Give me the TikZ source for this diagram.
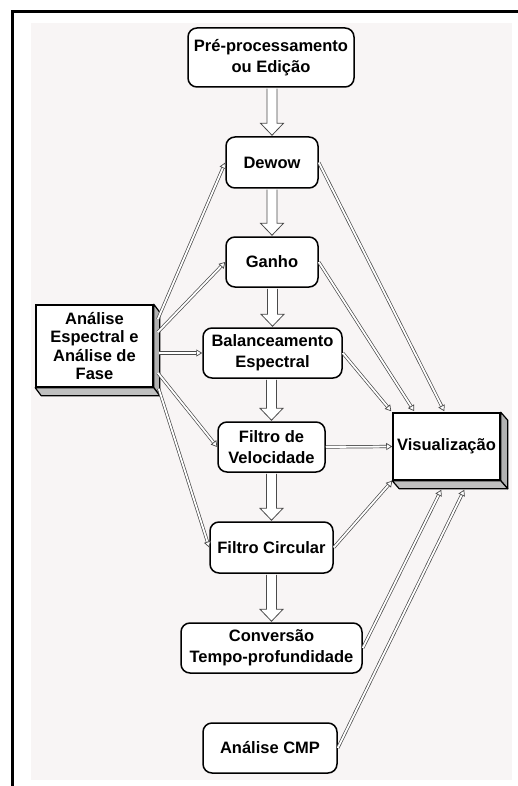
\documentclass[tikz,border=0pt]{standalone}
\usepackage{fontspec}
\setmainfont{Liberation Sans}
\usetikzlibrary{calc,arrows.meta}
\definecolor{bggrey}{HTML}{F8F5F5}
\definecolor{linegrey}{HTML}{4A4A4A}
\tikzset{
  rbox/.style={rectangle, rounded corners=9pt, draw=black, line width=1.5pt, fill=white,
    font=\bfseries\fontsize{16.5}{21}\selectfont, align=center, inner sep=0pt},
  sbox/.style={rectangle, draw=black, line width=1.5pt, fill=white,
    font=\bfseries\fontsize{16.5}{18.5}\selectfont, align=center, inner sep=0pt},
  sideface/.style={draw=black, line width=1.2pt, fill=gray!60, line join=round},
  bottomface/.style={draw=black, line width=1.2pt, fill=gray!50, line join=round},
  blk/.style={draw=linegrey, line width=0.8pt, fill=white, line join=miter},
  dline/.style={draw=linegrey, line width=0.7pt, double=white, double distance=1.8pt, shorten >=5pt},
  dhead/.style={draw=linegrey, line width=0.7pt, -{Triangle[fill=white, length=6pt, width=7pt]}},
}
\newcommand\dblarrow[2]{\draw[dline] (#1) -- (#2); \draw[dhead] ($(#2)!6pt!(#1)$) -- (#2);}
\newcommand\blkarrow[2]{\draw[blk] ($(#1.south -| #2.north)+(-5,1)$) -- ($(#2.north)+(-5,-13)$) -- ($(#2.north)+(-11.5,-13)$) -- ($(#2.north)+(0,-1)$) -- ($(#2.north)+(11.5,-13)$) -- ($(#2.north)+(5,-13)$) -- ($(#1.south -| #2.north)+(5,1)$);}
\begin{document}
\begin{tikzpicture}[x=1pt, y=-1pt]
\useasboundingbox (0,0) rectangle (518,786);
\fill[bggrey] (31,23) rectangle (512,780);
\draw[line width=3pt] (12,786) -- (12,12) -- (518,12);

% nodes
\node[rbox, minimum width=166pt, minimum height=59pt] (pre) at (271,57.5) {Pré-processamento\\ou Edição};
\node[rbox, minimum width=92pt, minimum height=51pt] (dewow) at (272,162.5) {Dewow};
\node[rbox, minimum width=92pt, minimum height=50pt] (ganho) at (272,262) {Ganho};
\node[rbox, minimum width=139pt, minimum height=50pt] (bal) at (272.5,353) {Balanceamento\\Espectral};
\node[rbox, minimum width=107pt, minimum height=50pt] (vel) at (271.5,447) {Filtro de\\Velocidade};
\node[rbox, minimum width=123pt, minimum height=51pt] (circ) at (271.5,547.5) {Filtro Circular};
\node[rbox, minimum width=181pt, minimum height=50pt] (conv) at (271.5,648) {Conversão\\Tempo-profundidade};
\node[rbox, minimum width=134pt, minimum height=50pt] (cmp) at (270,748) {Análise CMP};
\node[sbox, minimum width=117pt, minimum height=82pt] (ana) at (94.5,346) {Análise\\Espectral e\\Análise de\\Fase};
\node[sbox, minimum width=107pt, minimum height=67pt] (vis) at (446.5,446.5) {Visualização};

% 3D extrusions
\draw[sideface] (ana.north east) -- ++(6,8) -- ($(ana.south east)+(6,8)$) -- (ana.south east) -- cycle;
\draw[bottomface] (ana.south west) -- ++(6,8) -- ($(ana.south east)+(6,8)$) -- (ana.south east) -- cycle;
\draw[sideface] (vis.north east) -- ++(7,8) -- ($(vis.south east)+(7,8)$) -- (vis.south east) -- cycle;
\draw[bottomface] (vis.south west) -- ++(7,8) -- ($(vis.south east)+(7,8)$) -- (vis.south east) -- cycle;

% block arrows
\blkarrow{pre}{dewow}
\blkarrow{dewow}{ganho}
\blkarrow{ganho}{bal}
\blkarrow{bal}{vel}
\blkarrow{vel}{circ}
\blkarrow{circ}{conv}

% connector end points
\coordinate (a1) at ($(ana.north east)+(4,15)$);
\coordinate (a2) at ($(ana.north east)+(4,28)$);
\path (ana.east |- bal.west) ++(5,0) coordinate (a3);
\coordinate (a4) at ($(ana.south east)+(4,-15)$);
\coordinate (a5) at ($(ana.south east)+(5,1)$);
\coordinate (v1) at ($(vis.north west)+(52,-1)$);
\coordinate (v2) at ($(vis.north west)+(22,-1)$);
\coordinate (v3) at ($(vis.north west)+(-1,-1)$);
\coordinate (v4) at ($(vis.south west)+(0,0)$);
\coordinate (v5) at ($(vis.south west)+(49,9)$);
\coordinate (v6) at ($(vis.south west)+(72,9)$);

% diagonal double arrows
\dblarrow{a1}{dewow.west}
\dblarrow{a2}{ganho.west}
\dblarrow{a3}{bal.west}
\dblarrow{a4}{vel.west}
\dblarrow{a5}{circ.west}
\dblarrow{dewow.east}{v1}
\dblarrow{ganho.east}{v2}
\dblarrow{bal.east}{v3}
\dblarrow{vel.east}{vis.west}
\dblarrow{circ.east}{v4}
\dblarrow{conv.east}{v5}
\dblarrow{cmp.east}{v6}
\end{tikzpicture}
\end{document}
